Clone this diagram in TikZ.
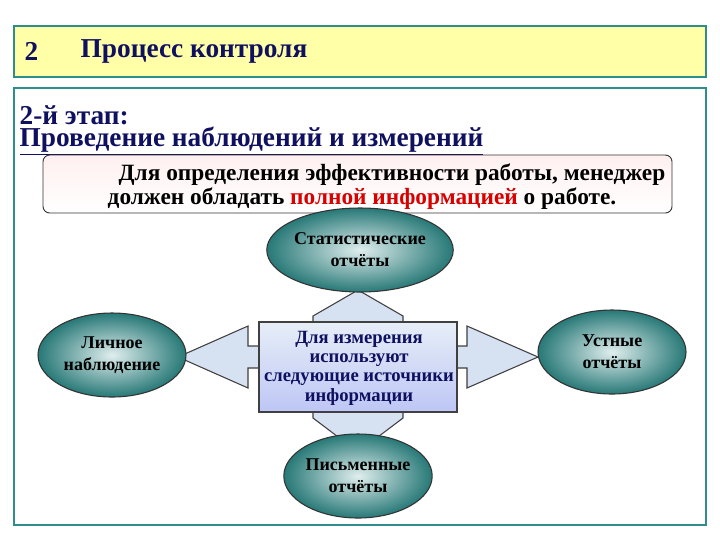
\documentclass[tikz,border=0pt]{standalone}
\usepackage{fontspec}
\setmainfont{Liberation Serif}
\usetikzlibrary{shapes.geometric}
\definecolor{navy}{HTML}{101060}
\definecolor{teal2}{HTML}{2E8E8C}
\definecolor{arr}{HTML}{D6E2F2}
\definecolor{yel}{HTML}{FFFFA8}
\begin{document}
\begin{tikzpicture}[x=0.75pt,y=-0.75pt,font=\bfseries,
  ell/.style={ellipse,draw=black!80,line width=0.8pt,minimum width=148pt*0.75,minimum height=84pt*0.75,inner sep=0pt,
    shading=radial,inner color=white!85!teal2,outer color=teal2!85!black,align=center,font=\bfseries\fontsize{13.5}{16.5}\selectfont},
  hd/.style={text=navy,font=\bfseries\fontsize{20.5}{24}\selectfont},
  arrw/.style={fill=arr,draw=black!75,line width=0.8pt}]
\useasboundingbox (0,0) rectangle (720,540);
\fill[white] (0,0) rectangle (720,540);
% header
\node[draw=teal2,fill=yel,line width=0.8pt,minimum width=692*0.75pt,minimum height=51*0.75pt,inner sep=0] (hdr) at (360,51.5) {};
\node[anchor=west,hd] (num) at (20,51) {2};
\node[anchor=west,hd] (ttl) at (76,51) {Процесс контроля};
% main frame
\node[draw=teal2,line width=0.8pt,minimum width=692*0.75pt,minimum height=437*0.75pt,inner sep=0] (frame) at (360,306.5) {};
\node[anchor=west,hd,inner sep=1pt] (st) at (18,115) {2-й этап:};
\node[anchor=west,hd,inner sep=1pt] (st2) at (18,141) {\underline{Проведение наблюдений и измерений}};
% info box
\node[draw=black!80,rounded corners=5pt,line width=0.7pt,top color=red!6,bottom color=white,minimum width=629*0.75pt,minimum height=58*0.75pt,inner sep=0] (info) at (357.5,184) {};
\node[anchor=east,font=\bfseries\fontsize{17.5}{20}\selectfont] (l1) at (670,175) {Для определения эффективности работы, менеджер};
\node[anchor=west,font=\bfseries\fontsize{17.5}{20}\selectfont] (l2) at (103,199) {должен обладать \textcolor{red!85!black}{полной информацией} о работе.};
% arrows
\draw[arrw] (313,322) -- (313,316) -- (358,290) -- (403,316) -- (403,322) -- cycle;
\draw[arrw] (313,412) -- (313,418) -- (358,452) -- (403,418) -- (403,412) -- cycle;
\draw[arrw] (259,346) -- (248,346) -- (248,326) -- (178,357) -- (248,388) -- (248,368) -- (259,368);
\draw[arrw] (457,346) -- (467,346) -- (467,326) -- (538,357) -- (467,388) -- (467,368) -- (457,368);
% center
\node[draw=black!75,line width=0.9pt,top color=arr!60!white,bottom color=arr!85!blue!90,minimum width=198*0.75pt,minimum height=90*0.75pt,inner sep=0] (ctr) at (358,367) {};
\node[text=navy,align=center,font=\bfseries\fontsize{14}{14.5}\selectfont] (ctrt) at (359,368) {Для измерения\\используют\\следующие источники\\информации};
% ellipses
\node[ell] (stat) at (360,250) {Статистические\\отчёты};
\node[ell] (lich) at (112,355) {Личное\\наблюдение};
\node[ell] (ust) at (612,352) {Устные\\отчёты};
\node[ell] (pis) at (358,476) {Письменные\\отчёты};
\end{tikzpicture}
\end{document}
